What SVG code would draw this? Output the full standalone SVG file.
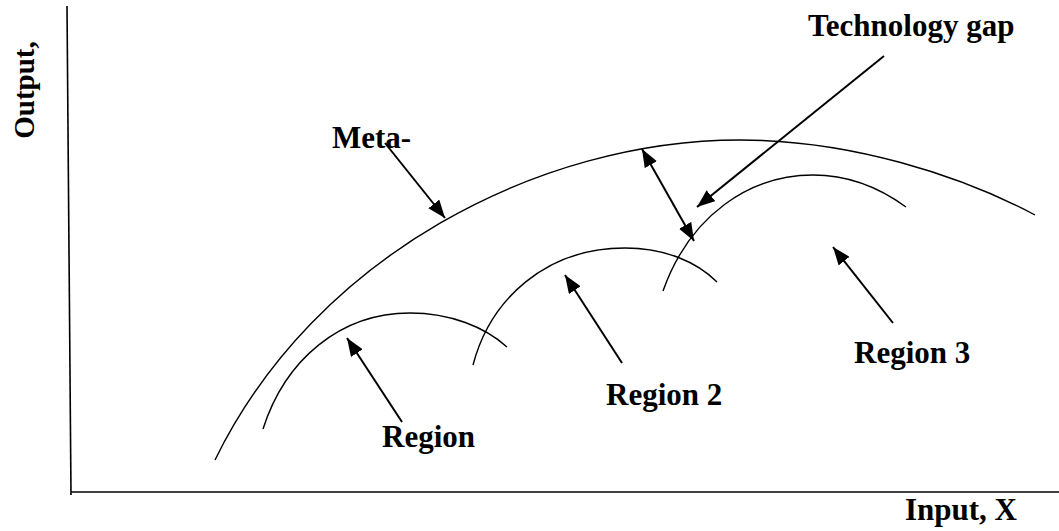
<svg xmlns="http://www.w3.org/2000/svg" width="1059" height="531" viewBox="0 0 1059 531">
<style>
.t{font-family:"Liberation Serif","Times New Roman",serif;font-weight:bold;font-size:31px;fill:#000}
.c{fill:none;stroke:#000;stroke-width:1.4}
.a{fill:none;stroke:#000;stroke-width:2}
.ax{fill:none;stroke:#000;stroke-width:1.6}
</style>
<defs>
<marker id="h" markerUnits="userSpaceOnUse" markerWidth="20" markerHeight="14" refX="18" refY="7" orient="auto-start-reverse" viewBox="0 0 20 14">
<path d="M0,0 L18,7 L0,14 z" fill="#000"/>
</marker>
</defs>
<rect width="1059" height="531" fill="#fff"/>
<g id="axes">
<line class="ax" x1="67" y1="6" x2="71" y2="495"/>
<line class="ax" x1="71" y1="492" x2="1059" y2="492"/>
<text class="t" style="font-size:29px" transform="translate(34,90) rotate(-90)" text-anchor="middle">Output,</text>
<text class="t" x="905" y="520">Input, X</text>
</g>
<g id="meta">
<path class="c" d="M215,460 C315,255 540,140 740,140 C850,140 960,175 1035,215"/>
<text class="t" x="332" y="148">Meta-</text>
</g>
<g id="region1">
<path class="c" d="M263,429 C285,360 340,313 410,313 C450,313 485,327 507,347"/>
<text class="t" x="382" y="447">Region</text>
</g>
<g id="region2">
<path class="c" d="M473,365 C490,300 545,248 625,248 C665,248 697,262 717,282"/>
<text class="t" x="606" y="405">Region 2</text>
</g>
<g id="region3">
<path class="c" d="M663,291 C690,215 750,175 813,175 C850,175 880,188 906,207"/>
<text class="t" x="854" y="363">Region 3</text>
</g>
<g id="techgap">
<text class="t" x="808" y="36">Technology gap</text>
</g>
<g id="connectors">
<line class="a" x1="385" y1="143" x2="445" y2="218" marker-end="url(#h)"/>
<line class="a" x1="884" y1="56" x2="697" y2="207" marker-end="url(#h)"/>
<line class="a" x1="642" y1="149" x2="694" y2="241" marker-start="url(#h)" marker-end="url(#h)"/>
<line class="a" x1="402" y1="422" x2="347" y2="338" marker-end="url(#h)"/>
<line class="a" x1="622" y1="363" x2="565" y2="275" marker-end="url(#h)"/>
<line class="a" x1="893" y1="323" x2="833" y2="247" marker-end="url(#h)"/>
</g>
</svg>
